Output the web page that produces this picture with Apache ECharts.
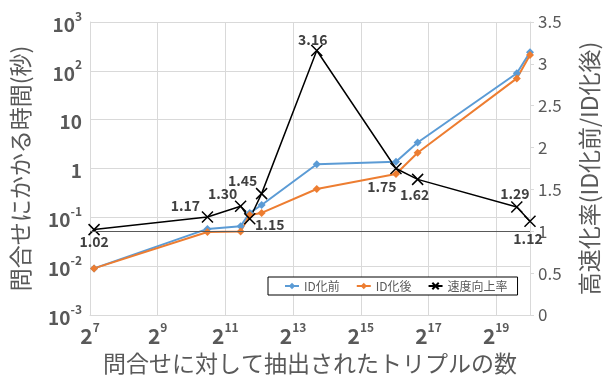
<!DOCTYPE html>
<html>
<head>
<meta charset="utf-8">
<script src="https://cdn.jsdelivr.net/npm/echarts@6/dist/echarts.min.js"></script>
<style>
  html, body { margin: 0; padding: 0; background: #fff; }
  #chart { width: 609px; height: 383px; }
</style>
</head>
<body>
<div id="chart"></div>
<script>
// トリプル数 (2の指数で読み取り)
const tripleExp = [7.12, 10.47, 11.45, 11.72, 12.07, 13.7, 16.04, 16.68, 19.61, 20.0];
// 問合せ時間 (秒)
const timeBefore = [0.009, 0.058, 0.066, 0.123, 0.179, 1.22, 1.38, 3.4, 89, 240];
const timeAfter = [0.009, 0.05, 0.051, 0.112, 0.123, 0.38, 0.77, 2.1, 70, 210];
// 速度向上率
const speedup = [1.02, 1.17, 1.3, 1.15, 1.45, 3.16, 1.75, 1.62, 1.29, 1.12];
// ラベルの位置 (点からのずれ)
const labelShift = [[0, 12], [-22, -11], [-18, -12], [20, 6], [-19, -13], [-4, -11], [-14, 18], [-3, 15], [-2, -13], [-2, 17]];

const FONT = "'Noto Sans CJK JP', 'Noto Sans', sans-serif";
const GRAY = "#595959";

document.addEventListener("DOMContentLoaded", function () {
  const chart = echarts.init(document.getElementById("chart"));

  const xRich = {
    b: { fontSize: 21, fontWeight: "bold", color: GRAY, fontFamily: FONT, lineHeight: 26, verticalAlign: "bottom" },
    s: { fontSize: 12, fontWeight: "bold", color: GRAY, fontFamily: FONT, lineHeight: 26, verticalAlign: "top" },
  };
  const yRich = {
    b: { fontSize: 19, fontWeight: "bold", color: GRAY, fontFamily: FONT, lineHeight: 24, verticalAlign: "bottom" },
    s: { fontSize: 12, fontWeight: "bold", color: GRAY, fontFamily: FONT, lineHeight: 24, verticalAlign: "top" },
  };

  const option = {
    animation: false,
    backgroundColor: "#fff",
    textStyle: { fontFamily: FONT },
    grid: { left: 90, right: 79, top: 22, bottom: 68 },
    legend: {
      left: 268,
      top: 277,
      padding: [3, 10, 3, 16],
      borderColor: "#000",
      borderWidth: 1,
      backgroundColor: "#fff",
      itemWidth: 14,
      itemHeight: 8,
      itemGap: 16,
      textStyle: { fontSize: 12, color: GRAY, fontFamily: FONT },
      data: ["ID化前", "ID化後", "速度向上率"],
    },
    xAxis: {
      type: "value",
      min: 7,
      max: 20,
      interval: 2,
      name: "問合せに対して抽出されたトリプルの数",
      nameLocation: "middle",
      nameGap: 37,
      nameTextStyle: { fontSize: 23, color: GRAY, fontFamily: FONT },
      axisLine: { show: true, lineStyle: { color: "#d9d9d9" } },
      axisTick: { show: false },
      axisLabel: {
        margin: 6,
        formatter: function (v) {
          if (v === 20) return "";
          return "{b|2}{s|" + v + "}";
        },
        rich: xRich,
      },
      splitLine: { show: true, lineStyle: { color: "#d9d9d9" } },
    },
    yAxis: [
      {
        type: "log",
        logBase: 10,
        min: 0.001,
        max: 1000,
        name: "問合せにかかる時間(秒)",
        nameLocation: "middle",
        nameRotate: 90,
        nameGap: 58,
        nameTextStyle: { fontSize: 23, color: GRAY, fontFamily: FONT },
        axisLine: { show: true, lineStyle: { color: "#d9d9d9" } },
        axisTick: { show: false },
        axisLabel: {
          margin: 8,
          formatter: function (v) {
            const e = Math.round(Math.log10(v));
            if (e === 0) return "{b|1}";
            if (e === 1) return "{b|10}";
            return "{b|10}{s|" + e + "}";
          },
          rich: yRich,
        },
        splitLine: { show: true, lineStyle: { color: "#d9d9d9" } },
      },
      {
        type: "value",
        min: 0,
        max: 3.5,
        interval: 0.5,
        name: "高速化率(ID化前/ID化後)",
        nameLocation: "middle",
        nameRotate: 90,
        nameGap: 48,
        nameTextStyle: { fontSize: 23, color: GRAY, fontFamily: FONT },
        axisLine: { show: true, lineStyle: { color: "#d9d9d9" } },
        axisTick: { show: true, length: 4, lineStyle: { color: "#d9d9d9" } },
        axisLabel: { margin: 8, fontSize: 17, color: GRAY, fontFamily: FONT },
        splitLine: { show: false },
      },
    ],
    series: [
      {
        name: "ID化前",
        type: "line",
        yAxisIndex: 0,
        data: tripleExp.map(function (x, i) { return [x, timeBefore[i]]; }),
        symbol: "diamond",
        symbolSize: 8,
        lineStyle: { color: "#5B9BD5", width: 2 },
        itemStyle: { color: "#5B9BD5" },
      },
      {
        name: "ID化後",
        type: "line",
        yAxisIndex: 0,
        data: tripleExp.map(function (x, i) { return [x, timeAfter[i]]; }),
        symbol: "diamond",
        symbolSize: 8,
        lineStyle: { color: "#ED7D31", width: 2 },
        itemStyle: { color: "#ED7D31" },
      },
      {
        name: "速度向上率",
        type: "line",
        yAxisIndex: 1,
        data: tripleExp.map(function (x, i) {
          return {
            value: [x, speedup[i]],
            label: { offset: labelShift[i] },
          };
        }),
        symbol: "path://M0,0L10,10M10,0L0,10",
        symbolSize: 11,
        showAllSymbol: true,
        lineStyle: { color: "#000", width: 1.5 },
        itemStyle: { color: "#000", borderColor: "#000", borderWidth: 1.5 },
        label: {
          show: true,
          position: "inside",
          fontSize: 14,
          fontWeight: "bold",
          color: "#404040",
          fontFamily: FONT,
          formatter: function (p) { return p.value[1].toFixed(2); },
        },
        markLine: {
          silent: true,
          symbol: "none",
          label: { show: false },
          lineStyle: { color: "#595959", width: 1, type: "solid" },
          data: [{ yAxis: 1 }],
        },
      },
    ],
  };
  chart.setOption(option);

  window.addEventListener("resize", function () {
    chart.resize();
  });
});
</script>
</body>
</html>
